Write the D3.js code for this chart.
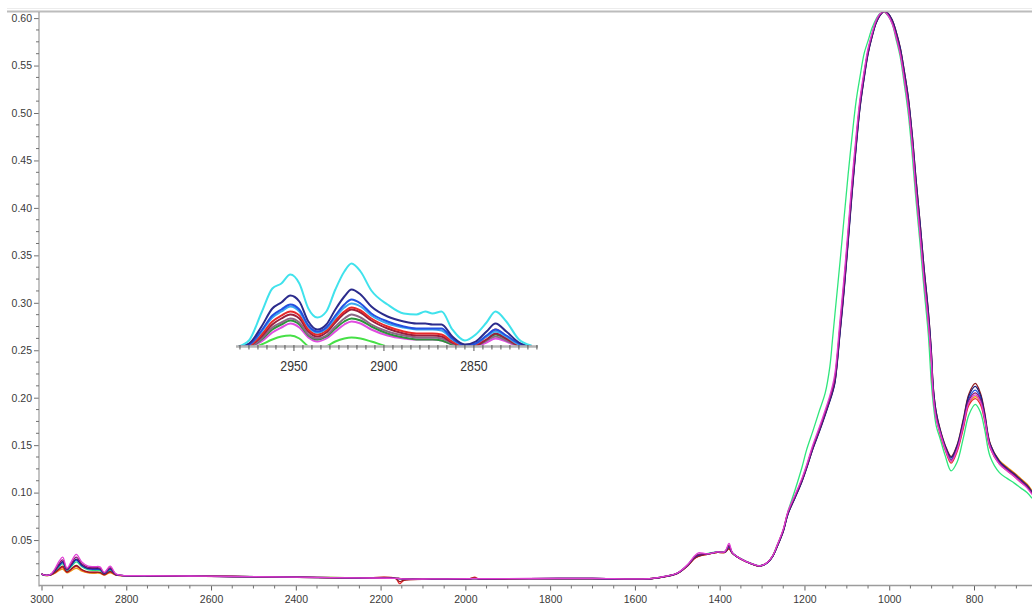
<!DOCTYPE html>
<html>
<head>
<meta charset="utf-8">
<script src="https://cdn.jsdelivr.net/npm/d3@7"></script>
<style>
  html, body { margin: 0; padding: 0; background: #fff; }
  svg { display: block; }
</style>
</head>
<body>
<svg id="chart" width="1032" height="608"></svg>
<script>
// ---- Main spectra: absorbance vs wavenumber (cm-1), shared wavenumber grid ----
const wavenumbers = [
  3000,2990,2978,2968,2958,2950,2940,2930,2918,2905,2890,2875,2862,2852,2838,2825,2810,
  2750,2650,2550,2450,2350,2250,2165,2155,2145,2080,1990,1978,1968,1850,1700,1600,1560,1530,1500,
  1475,1460,1450,1430,1405,1388,1378,1370,1350,1325,1305,
  1288,1275,1265,1250,1239,1222,1206,1195,1180,1165,
  1151,1140,1134,1128,1116,1106,1097,1088,1078,1069,
  1059,1050,1040,1031,1021,1012,1003,993,984,974,
  965,955,946,937,927,918,908,901,896,889,
  880,868,854,840,825,812,797,785,775,762,740,722,705,690,675,663
];

const specMagenta = [
  0.0142,0.0128,0.0140,0.0200,0.0280,0.0320,0.0205,0.0270,0.0350,0.0270,0.0225,0.0220,0.0218,0.0160,0.0225,0.0145,0.0128,
  0.0125,0.0121,0.0117,0.0112,0.0106,0.0101,0.0097,0.0094,0.0090,0.0090,0.0093,0.0095,0.0093,0.0095,0.0096,0.0091,0.0096,0.0117,0.0153,
  0.0245,0.0330,0.0365,0.0355,0.0375,0.0378,0.0465,0.0368,0.0302,0.0252,0.0229,
  0.0262,0.0335,0.0440,0.0615,0.0800,0.0978,0.1150,0.1292,0.1505,0.1688,
  0.1870,0.2025,0.2125,0.2260,0.2820,0.3300,0.3780,0.4280,0.4770,0.5150,
  0.5450,0.5680,0.5850,0.5975,0.6048,0.6068,0.6030,0.5940,0.5805,0.5620,
  0.5370,0.5060,0.4670,0.4180,0.3700,0.3240,0.2800,0.2400,0.2010,0.1770,
  0.163,0.146,0.133,0.145,0.171,0.195,0.203,0.196,0.178,0.148,0.130,0.123,0.117,0.111,0.105,0.098
];
const specPurple = [
  0.0140,0.0127,0.0138,0.0190,0.0255,0.0290,0.0195,0.0250,0.0320,0.0250,0.0212,0.0208,0.0205,0.0155,0.0210,0.0142,0.0127,
  0.0124,0.0120,0.0116,0.0111,0.0106,0.0101,0.0097,0.0094,0.0090,0.0090,0.0092,0.0094,0.0092,0.0094,0.0095,0.0091,0.0095,0.0116,0.0151,
  0.0240,0.0320,0.0350,0.0353,0.0373,0.0375,0.0445,0.0365,0.0301,0.0251,0.0228,
  0.0260,0.0330,0.0430,0.0600,0.0785,0.0960,0.1130,0.1270,0.1480,0.1660,
  0.1840,0.1990,0.2080,0.2200,0.2740,0.3220,0.3700,0.4200,0.4700,0.5100,
  0.5410,0.5650,0.5830,0.5960,0.6040,0.6070,0.6040,0.5960,0.5830,0.5650,
  0.5410,0.5110,0.4720,0.4240,0.3760,0.3300,0.2850,0.2450,0.2050,0.1800,
  0.164,0.147,0.134,0.146,0.172,0.197,0.205,0.198,0.179,0.149,0.131,0.124,0.118,0.112,0.106,0.099
];
const specNavy = [
  0.0141,0.0128,0.0137,0.0182,0.0240,0.0272,0.0188,0.0238,0.0300,0.0238,0.0202,0.0198,0.0196,0.0150,0.0200,0.0140,0.0127,
  0.0124,0.0120,0.0116,0.0112,0.0106,0.0101,0.0097,0.0094,0.0090,0.0089,0.0092,0.0094,0.0092,0.0094,0.0095,0.0090,0.0095,0.0115,0.0150,
  0.0238,0.0318,0.0345,0.0352,0.0372,0.0374,0.0435,0.0363,0.0300,0.0250,0.0228,
  0.0258,0.0326,0.0424,0.0590,0.0772,0.0946,0.1115,0.1255,0.1462,0.1640,
  0.1818,0.1965,0.2050,0.2160,0.2680,0.3150,0.3630,0.4130,0.4640,0.5050,
  0.5370,0.5620,0.5810,0.5945,0.6032,0.6070,0.6050,0.5980,0.5860,0.5685,
  0.5455,0.5160,0.4780,0.4310,0.3830,0.3370,0.2920,0.2510,0.2100,0.1840,
  0.166,0.149,0.137,0.149,0.176,0.202,0.212,0.203,0.183,0.151,0.133,0.125,0.119,0.113,0.107,0.100
];
const specBlue = [
  0.0140,0.0127,0.0136,0.0178,0.0232,0.0262,0.0184,0.0230,0.0290,0.0230,0.0195,0.0190,0.0188,0.0147,0.0192,0.0138,0.0126,
  0.0123,0.0119,0.0115,0.0111,0.0105,0.0100,0.0096,0.0093,0.0089,0.0089,0.0092,0.0094,0.0092,0.0094,0.0095,0.0090,0.0094,0.0114,0.0149,
  0.0237,0.0315,0.0342,0.0352,0.0372,0.0373,0.0430,0.0363,0.0300,0.0250,0.0227,
  0.0259,0.0328,0.0427,0.0595,0.0778,0.0952,0.1122,0.1262,0.1470,0.1650,
  0.1830,0.1978,0.2065,0.2180,0.2710,0.3185,0.3665,0.4165,0.4670,0.5075,
  0.5390,0.5635,0.5820,0.5952,0.6036,0.6068,0.6045,0.5970,0.5845,0.5668,
  0.5432,0.5135,0.4750,0.4275,0.3795,0.3335,0.2885,0.2480,0.2075,0.1820,
  0.165,0.148,0.135,0.147,0.174,0.199,0.208,0.200,0.181,0.150,0.132,0.125,0.119,0.113,0.107,0.100
];
const specDarkRed = [
  0.0143,0.0128,0.0133,0.0160,0.0200,0.0225,0.0165,0.0195,0.0232,0.0190,0.0165,0.0162,0.0160,0.0135,0.0170,0.0133,0.0126,
  0.0125,0.0121,0.0116,0.0111,0.0105,0.0100,0.0096,0.0062,0.0078,0.0087,0.0092,0.0102,0.0091,0.0093,0.0094,0.0090,0.0094,0.0113,0.0148,
  0.0232,0.0305,0.0330,0.0350,0.0370,0.0370,0.0410,0.0360,0.0299,0.0249,0.0227,
  0.0259,0.0327,0.0425,0.0592,0.0775,0.0950,0.1120,0.1260,0.1468,0.1648,
  0.1828,0.1975,0.2060,0.2170,0.2695,0.3170,0.3650,0.4150,0.4655,0.5062,
  0.5380,0.5628,0.5815,0.5950,0.6036,0.6072,0.6052,0.5982,0.5862,0.5688,
  0.5458,0.5165,0.4785,0.4315,0.3835,0.3375,0.2925,0.2515,0.2105,0.1845,
  0.167,0.150,0.138,0.150,0.178,0.204,0.215,0.205,0.185,0.152,0.133,0.126,0.120,0.114,0.108,0.101
];
const specRed = [
  0.0142,0.0127,0.0132,0.0156,0.0192,0.0212,0.0160,0.0188,0.0222,0.0183,0.0160,0.0158,0.0156,0.0133,0.0163,0.0132,0.0125,
  0.0124,0.0120,0.0116,0.0110,0.0104,0.0099,0.0095,0.0040,0.0075,0.0086,0.0091,0.0108,0.0090,0.0093,0.0094,0.0089,0.0093,0.0112,0.0147,
  0.0230,0.0302,0.0328,0.0350,0.0370,0.0369,0.0408,0.0360,0.0298,0.0248,0.0226,
  0.0260,0.0331,0.0432,0.0603,0.0788,0.0963,0.1133,0.1273,0.1483,0.1663,
  0.1843,0.1995,0.2090,0.2215,0.2765,0.3245,0.3725,0.4225,0.4720,0.5115,
  0.5420,0.5655,0.5835,0.5962,0.6040,0.6066,0.6035,0.5950,0.5815,0.5632,
  0.5390,0.5085,0.4695,0.4210,0.3730,0.3270,0.2825,0.2425,0.2030,0.1785,
  0.162,0.145,0.131,0.143,0.168,0.192,0.199,0.193,0.176,0.147,0.130,0.123,0.117,0.111,0.106,0.099
];
const specOrange = [
  0.0141,0.0126,0.0130,0.0150,0.0180,0.0195,0.0155,0.0175,0.0203,0.0172,0.0153,0.0150,0.0150,0.0130,0.0155,0.0130,0.0124,
  0.0124,0.0121,0.0117,0.0112,0.0107,0.0102,0.0098,0.0095,0.0091,0.0090,0.0093,0.0095,0.0093,0.0094,0.0095,0.0091,0.0095,0.0115,0.0150,
  0.0232,0.0305,0.0330,0.0351,0.0371,0.0370,0.0412,0.0361,0.0300,0.0250,0.0228,
  0.0261,0.0332,0.0433,0.0604,0.0790,0.0965,0.1135,0.1275,0.1485,0.1665,
  0.1845,0.1995,0.2085,0.2205,0.2750,0.3230,0.3710,0.4210,0.4708,0.5105,
  0.5413,0.5650,0.5830,0.5960,0.6040,0.6068,0.6040,0.5960,0.5830,0.5650,
  0.5410,0.5110,0.4720,0.4240,0.3760,0.3300,0.2850,0.2450,0.2055,0.1805,
  0.165,0.148,0.133,0.145,0.170,0.194,0.201,0.196,0.180,0.151,0.134,0.127,0.121,0.115,0.109,0.102
];
const specGreen = [
  0.0139,0.0126,0.0135,0.0172,0.0222,0.0250,0.0178,0.0218,0.0270,0.0218,0.0185,0.0180,0.0178,0.0143,0.0182,0.0136,0.0126,
  0.0123,0.0120,0.0117,0.0113,0.0107,0.0102,0.0097,0.0094,0.0090,0.0089,0.0091,0.0093,0.0091,0.0093,0.0093,0.0089,0.0094,0.0116,0.0152,
  0.0240,0.0315,0.0338,0.0356,0.0378,0.0380,0.0425,0.0368,0.0305,0.0254,0.0230,
  0.0262,0.0335,0.0440,0.0610,0.0800,0.1030,0.1265,0.1450,0.1650,0.1860,
  0.2050,0.2330,0.2605,0.2885,0.3435,0.3920,0.4350,0.4740,0.5130,0.5380,
  0.5630,0.5760,0.5900,0.5990,0.6050,0.6065,0.6025,0.5940,0.5780,0.5590,
  0.5320,0.4990,0.4570,0.4090,0.3610,0.3150,0.2680,0.2180,0.1930,0.1700,
  0.157,0.139,0.123,0.132,0.158,0.182,0.193,0.185,0.167,0.138,0.121,0.115,0.110,0.105,0.100,0.094
];

const mainSeries = [
  { name: "S8", color: "#2fe67c", values: specGreen },
  { name: "S7", color: "#eba21c", values: specOrange },
  { name: "S6", color: "#e8282c", values: specRed },
  { name: "S5", color: "#8e1a1e", values: specDarkRed },
  { name: "S4", color: "#2150e0", values: specBlue },
  { name: "S3", color: "#1f1f7c", values: specNavy },
  { name: "S2", color: "#8c1672", values: specPurple },
  { name: "S1", color: "#e03fd4", values: specMagenta }
];

const xTicks = [3000, 2800, 2600, 2400, 2200, 2000, 1800, 1600, 1400, 1200, 1000, 800];
const yTicks = [0.05, 0.10, 0.15, 0.20, 0.25, 0.30, 0.35, 0.40, 0.45, 0.50, 0.55, 0.60];

// ---- Inset: C-H stretching region, baseline-corrected (arbitrary units) ----
const insetWavenumbers = [2981,2975,2968,2962,2957,2952,2947,2942,2937,2932,2927,2922,2918,2913,2907,2898,2889,2882,2877,2873,2868,2862,2855,2849,2843,2838,2832,2825,2818];
const insetCyan      = [0,6,34,58,63,72,63,38,29,35,57,75,83,75,56,42,33,32,35,33,35,17,6,12,24,35,25,7,1];
const insetNavy      = [0,3,20,38,44,51,45,25,17,22,37,50,57,52,40,30,25,23,23,22,22,10,2,5,15,23,15,4,0];
const insetBlue      = [0,2,16,31,37,42,37,21,15,19,31,42,47,43,33,25,20,18,18,18,18,8,1,3,11,17,11,3,0];
const insetLightBlue = [0,2,15,29,35,40,35,20,14,18,29,39,43,40,31,23,19,17,17,17,16,7,1,3,10,15,10,2,0];
const insetRed       = [0,1,12,25,31,35,31,17,12,16,26,35,39,36,28,20,15,13,13,13,12,5,0,2,10,17,10,2,0];
const insetDarkRed   = [0,1,10,22,28,32,28,15,10,14,24,33,37,34,26,18,13,11,11,11,10,4,0,1,7,13,8,1,0];
const insetGrey      = [0,0,8,19,24,28,24,12,8,11,20,28,32,29,22,15,11,9,9,9,8,3,0,1,6,10,6,1,0];
const insetDarkGreen = [0,0,7,17,22,26,22,11,7,10,18,25,28,26,20,13,9,7,7,7,6,2,0,1,6,12,7,1,0];
const insetMagenta   = [0,0,5,14,19,23,19,9,5,8,15,22,25,23,17,11,8,7,7,7,6,2,0,0,4,8,5,0,0];
const insetGreen     = [-5,-3,2,7,10,11,8,0,-4,0,5,8,9,8,5,0,-3,-3,-3,-3,-3,-3,-3,-3,-3,-3,-3,-3,-3];

const insetSeries = [
  { color: "#46e046", values: insetGreen },
  { color: "#e04ce0", values: insetMagenta },
  { color: "#2a963a", values: insetDarkGreen },
  { color: "#8a6886", values: insetGrey },
  { color: "#9a1f3c", values: insetDarkRed },
  { color: "#e82a2a", values: insetRed },
  { color: "#3aa8f0", values: insetLightBlue },
  { color: "#2450e0", values: insetBlue },
  { color: "#2b2b8c", values: insetNavy },
  { color: "#40e2ec", values: insetCyan }
];
const insetTicks = [2950, 2900, 2850];

// ---- Layout ----
const W = 1032, H = 608;
const plotLeft = 39, plotRight = 1032, plotTop = 12, plotBottom = 585.5;

const svg = d3.select("#chart");
svg.append("rect").attr("width", W).attr("height", H).attr("fill", "#fff");

const x = d3.scaleLinear().domain([3000, 800]).range([41.5, 974]);
const y = d3.scaleLinear().domain([0, 0.6]).range([587.5, 18.1]);

const defs = svg.append("defs");
defs.append("clipPath").attr("id", "plotClip")
  .append("rect").attr("x", plotLeft).attr("y", plotTop + 0.5)
  .attr("width", plotRight - plotLeft).attr("height", plotBottom - plotTop - 0.5);

// top frame rule
svg.append("line").attr("x1", 7).attr("x2", W).attr("y1", 8.5).attr("y2", 8.5)
  .attr("stroke", "#ececec").attr("stroke-width", 1);
svg.append("line").attr("x1", 7).attr("x2", W).attr("y1", 11.5).attr("y2", 11.5)
  .attr("stroke", "#bcbcbc").attr("stroke-width", 2);

// spectra
const mainLine = d3.line()
  .x((d, i) => x(wavenumbers[i]))
  .y(d => y(d))
  .curve(d3.curveCatmullRom.alpha(0.5));

svg.append("g").attr("clip-path", "url(#plotClip)")
  .selectAll("path").data(mainSeries).join("path")
  .attr("d", d => mainLine(d.values))
  .attr("fill", "none")
  .attr("stroke", d => d.color)
  .attr("stroke-width", 1.3)
  .attr("stroke-linejoin", "round");

// axes
const axisColor = "#9c9c9c";
const labelFont = "'Liberation Sans', Arial, sans-serif";

const gy = svg.append("g").attr("transform", `translate(${plotLeft},0)`)
  .call(d3.axisLeft(y).tickValues(yTicks).tickFormat(d3.format(".2f"))
    .tickSize(5).tickSizeOuter(0).tickPadding(2));
gy.select(".domain").remove();
gy.selectAll(".tick line").attr("stroke", "#707070");
gy.selectAll(".tick text").attr("fill", "#3a3a3a")
  .style("font-family", labelFont).style("font-size", "10.5px");
gy.append("line").attr("x1", 0).attr("x2", 0).attr("y1", plotTop).attr("y2", plotBottom + 1)
  .attr("stroke", axisColor).attr("stroke-width", 1.2);
// minor y ticks
const yMinor = d3.range(1, 49).map(k => k * 0.0125).filter(v => Math.abs(v / 0.05 - Math.round(v / 0.05)) > 1e-6);
gy.selectAll(".minor").data(yMinor).join("line").attr("class", "minor")
  .attr("x1", -3).attr("x2", 0).attr("y1", d => y(d)).attr("y2", d => y(d))
  .attr("stroke", "#707070").attr("stroke-width", 1);

const gx = svg.append("g").attr("transform", `translate(0,${plotBottom})`)
  .call(d3.axisBottom(x).tickValues(xTicks).tickSize(5).tickSizeOuter(0).tickPadding(5)
    .tickFormat(d3.format("d")));
gx.select(".domain").remove();
gx.append("line").attr("x1", plotLeft).attr("x2", plotRight).attr("y1", 0).attr("y2", 0)
  .attr("stroke", axisColor).attr("stroke-width", 1.5);
gx.selectAll(".tick line").attr("stroke", "#606060");
gx.selectAll(".tick text").attr("fill", "#3a3a3a")
  .style("font-family", labelFont).style("font-size", "10.5px");
const xMinor = d3.range(2950, 660, -50).filter(v => v % 200 !== 0);
gx.selectAll(".minor").data(xMinor).join("line").attr("class", "minor")
  .attr("x1", d => x(d)).attr("x2", d => x(d)).attr("y1", 0).attr("y2", 3)
  .attr("stroke", "#707070").attr("stroke-width", 1);

// ---- Inset ----
const xi = d3.scaleLinear().domain([2982.2, 2814.4]).range([236, 538]);
const yi = d3.scaleLinear().domain([0, 92]).range([346.5, 254.5]);

defs.append("clipPath").attr("id", "insetClip")
  .append("rect").attr("x", 236).attr("y", 230).attr("width", 302).attr("height", 115.5);

const insetLine = d3.line()
  .x((d, i) => xi(insetWavenumbers[i]))
  .y(d => yi(d))
  .curve(d3.curveMonotoneX);

const gi = svg.append("g");
gi.append("g").attr("clip-path", "url(#insetClip)")
  .selectAll("path").data(insetSeries).join("path")
  .attr("d", d => insetLine(d.values))
  .attr("fill", "none")
  .attr("stroke", d => d.color)
  .attr("stroke-width", 2)
  .attr("stroke-linejoin", "round");

gi.append("line").attr("x1", 236).attr("x2", 538).attr("y1", 346.5).attr("y2", 346.5)
  .attr("stroke", "#b4b4b4").attr("stroke-width", 2.5);
gi.selectAll(".itick").data(d3.range(2980, 2814, -5)).join("line").attr("class", "itick")
  .attr("x1", d => xi(d)).attr("x2", d => xi(d))
  .attr("y1", 345).attr("y2", d => d % 50 === 0 ? 351 : 349.5)
  .attr("stroke", "#555").attr("stroke-width", 1);
gi.selectAll(".ilabel").data(insetTicks).join("text").attr("class", "ilabel")
  .attr("transform", d => `translate(${xi(d)},371) scale(0.82,1)`)
  .attr("text-anchor", "middle")
  .attr("fill", "#333")
  .style("font-family", labelFont).style("font-size", "15px")
  .text(d => d);
</script>
</body>
</html>
